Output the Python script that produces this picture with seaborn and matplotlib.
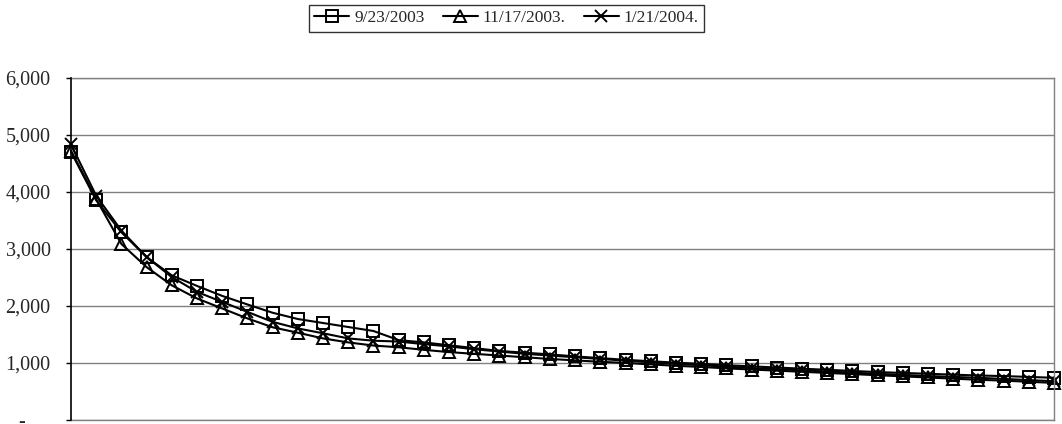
import numpy as np
import pandas as pd
import seaborn as sns
import matplotlib.pyplot as plt
from matplotlib.ticker import FixedLocator, FuncFormatter

# series (40 points each)
labels = ["9/23/2003", "11/17/2003.", "1/21/2004."]
markers = ["s", "^", "x"]

sep_2003 = [4700, 3850, 3290, 2855, 2535, 2350, 2175, 2025, 1880, 1770,
            1700, 1630, 1560, 1400, 1360, 1310, 1260, 1210, 1180, 1150,
            1115, 1085, 1055, 1030, 1005, 985, 960, 940, 920, 900,
            880, 860, 840, 825, 810, 795, 780, 770, 755, 740]
nov_2003 = [4720, 3870, 3085, 2680, 2360, 2130, 1955, 1780, 1625, 1530,
            1430, 1360, 1305, 1275, 1230, 1190, 1160, 1130, 1100, 1070,
            1045, 1020, 1000, 975, 950, 930, 905, 885, 865, 845,
            825, 805, 785, 765, 745, 725, 705, 690, 670, 650]
jan_2004 = [4830, 3930, 3320, 2855, 2505, 2245, 2070, 1895, 1720, 1605,
            1520, 1430, 1390, 1375, 1330, 1290, 1240, 1200, 1160, 1130,
            1100, 1070, 1040, 1010, 985, 960, 935, 910, 890, 870,
            850, 830, 810, 790, 770, 755, 740, 720, 700, 680]

y_ticks = [0, 1000, 2000, 3000, 4000, 5000, 6000]

sns.set_style("white")
plt.rcParams['font.family'] = ['Liberation Serif', 'DejaVu Serif']

fig = plt.figure(figsize=(10.62, 4.24), dpi=100)
ax = fig.add_axes([71 / 1062, 4 / 424, (1054 - 71) / 1062, (420 - 77.7) / 424])

points = np.arange(len(sep_2003))
for values, label, mk in zip([sep_2003, nov_2003, jan_2004], labels, markers):
    sns.lineplot(x=points, y=values, ax=ax, color="black", linewidth=1.5,
                 marker=mk, markersize=8, markerfacecolor="none",
                 markeredgecolor="black", markeredgewidth=1.4, label=label,
                 clip_on=False)

ax.set_xlim(0, len(points) - 1)
ax.set_ylim(0, 6000)
ax.yaxis.set_major_locator(FixedLocator(y_ticks))
ax.yaxis.set_major_formatter(FuncFormatter(lambda v, p: "-     " if v == 0 else f"{int(v):,}"))
ax.set_xticks([])
ax.set_xlabel("")
ax.set_ylabel("")
ax.grid(axis="y", color="#808080", linewidth=1)
ax.tick_params(axis="y", left=True, length=3.6, width=1, color="black", labelsize=14.5, pad=11)

for side in ["top", "right", "bottom"]:
    ax.spines[side].set_color("#808080")
    ax.spines[side].set_linewidth(1)
ax.spines["left"].set_color("black")
ax.spines["left"].set_linewidth(1.2)
ax.spines["left"].set_zorder(5)

ax.get_legend().remove()
handles, leg_labels = ax.get_legend_handles_labels()
leg = fig.legend(handles, leg_labels, loc="upper center", bbox_to_anchor=(0.477, 0.988),
                 ncol=3, frameon=True, fancybox=False, edgecolor="black",
                 fontsize=12.5, handlelength=2.0, handletextpad=0.3,
                 columnspacing=1.05, borderpad=0.3, borderaxespad=0)
leg.get_frame().set_linewidth(1)

fig.savefig("out.png", dpi=100)
